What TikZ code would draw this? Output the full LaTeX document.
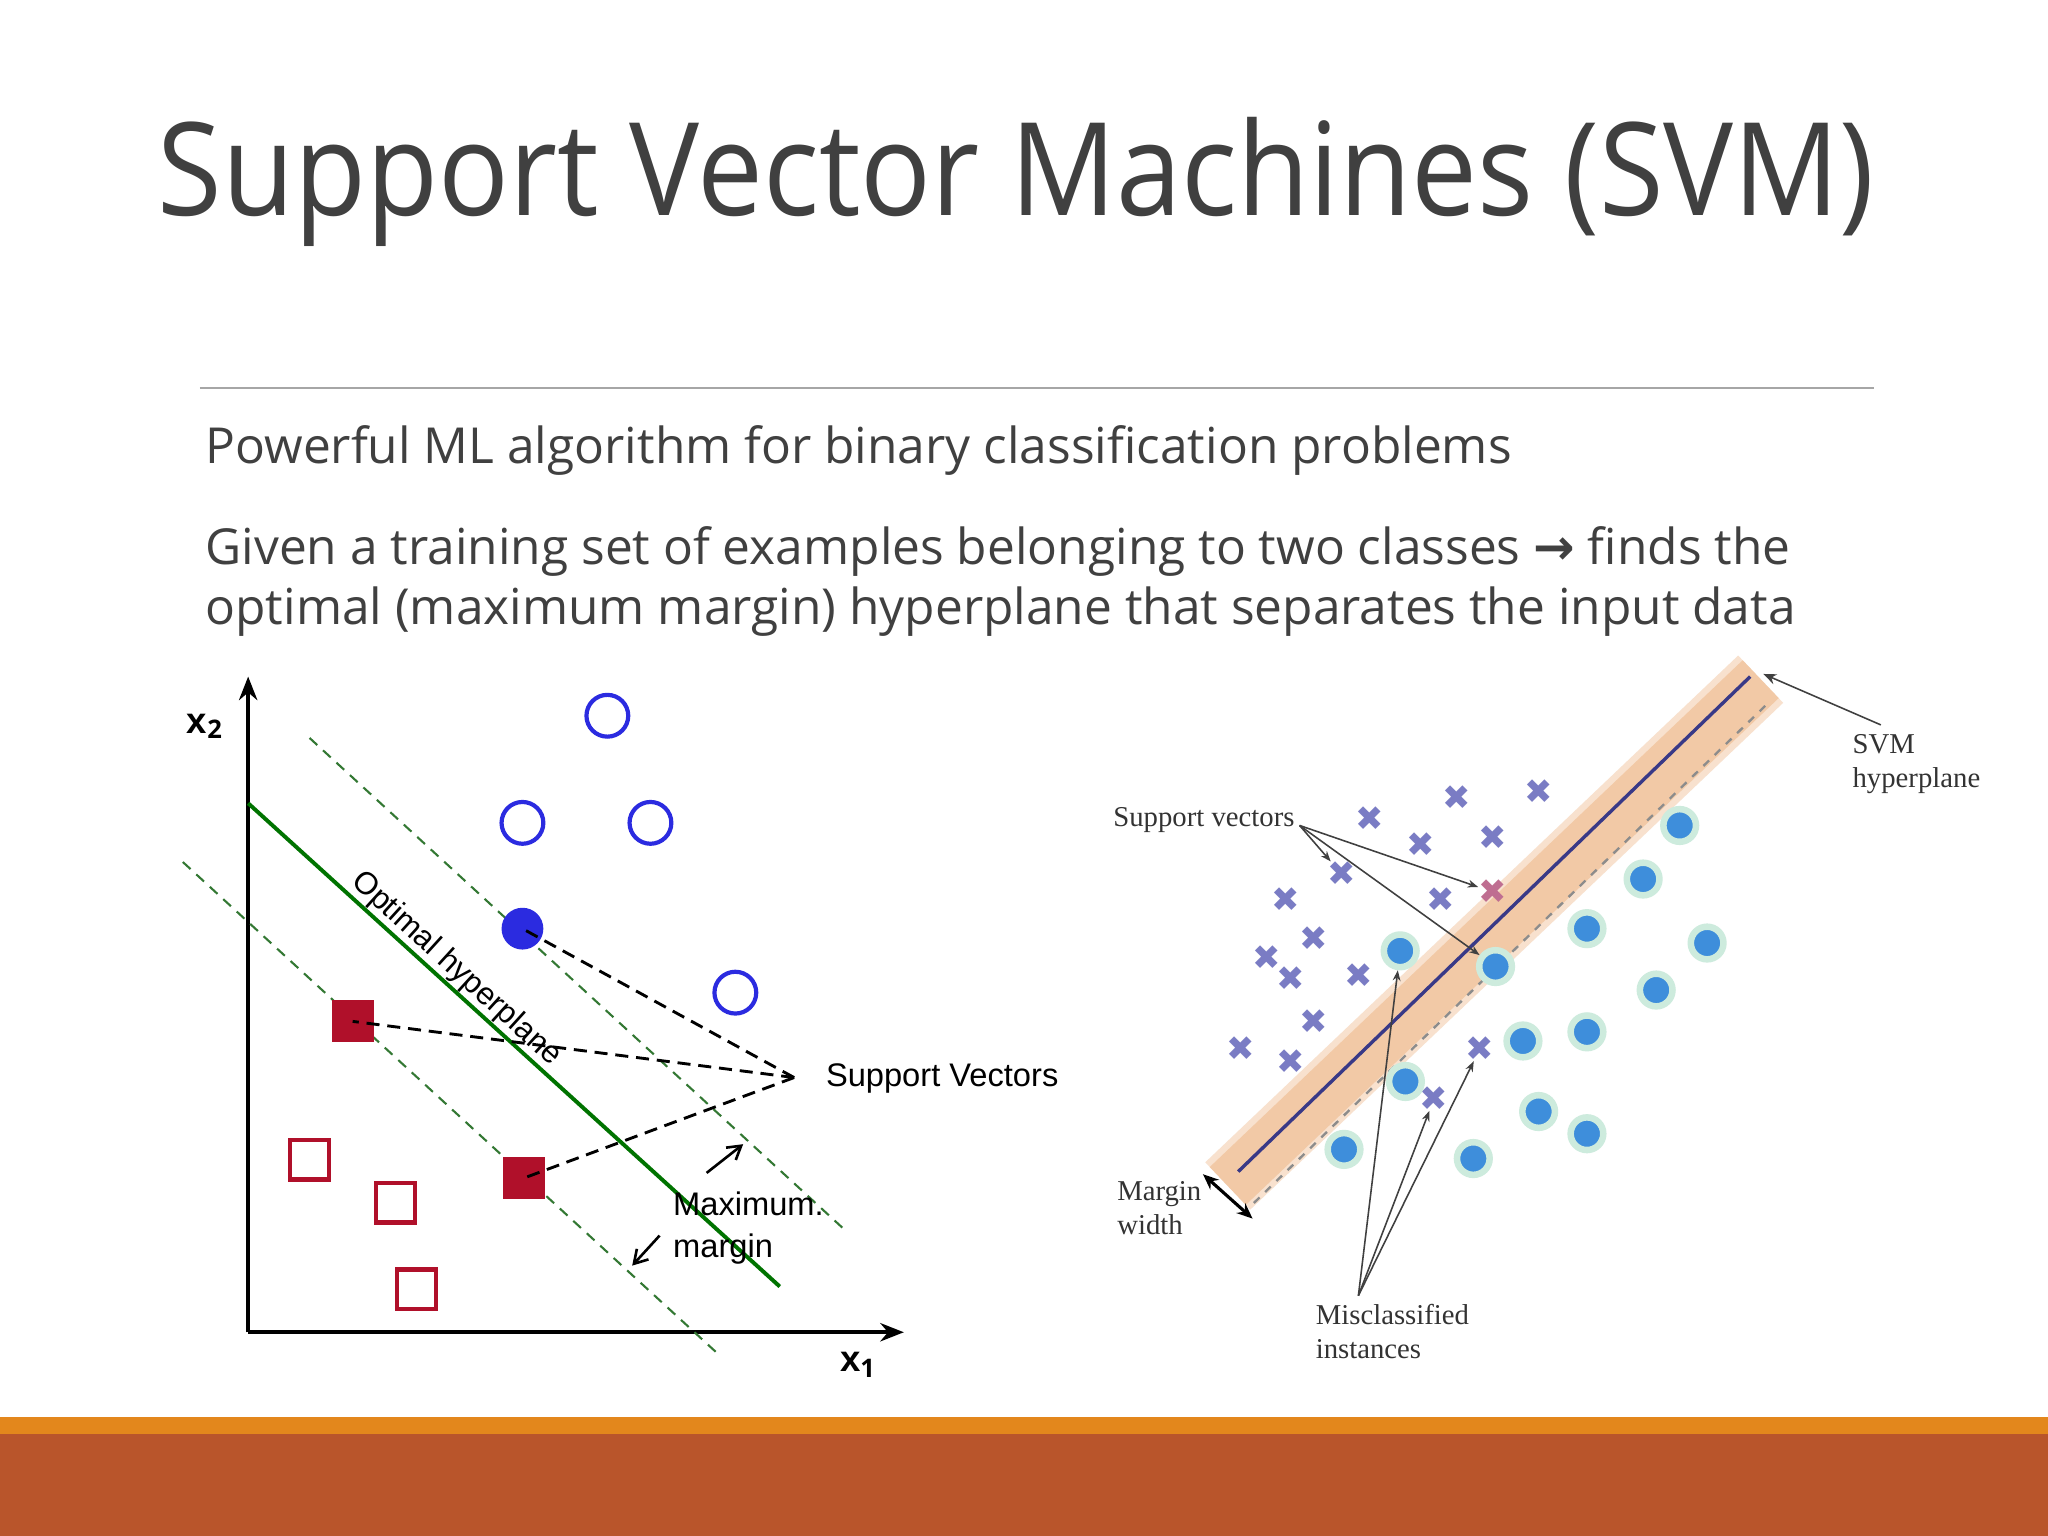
\documentclass[tikz,border=0pt]{standalone}
\usepackage{fontspec}
\setmainfont{Open Sans}
\newfontfamily\lsans{Liberation Sans}
\newfontfamily\lserif{Liberation Serif}
\newfontfamily\dejav{DejaVu Sans}
\usetikzlibrary{arrows.meta,calc}
\definecolor{tgray}{HTML}{404040}
\definecolor{barA}{HTML}{E3871C}
\definecolor{barB}{HTML}{B9552B}
\definecolor{cblue}{HTML}{2B2BE0}
\definecolor{sred}{HTML}{B0102A}
\definecolor{xcol}{HTML}{7A7CC4}
\definecolor{dotb}{HTML}{3E8EDB}
\definecolor{glow}{HTML}{CDEBDD}
\definecolor{band}{HTML}{F2C9A6}
\tikzset{
 opencirc/.style={circle,draw=cblue,line width=1.6pt,minimum size=16pt,inner sep=0pt},
 fillcirc/.style={circle,fill=cblue,minimum size=16pt,inner sep=0pt},
 opensq/.style={rectangle,draw=sred,line width=1.6pt,minimum size=15pt,inner sep=0pt},
 fillsq/.style={rectangle,fill=sred,minimum size=16pt,inner sep=0pt},
 xm/.style={inner sep=0pt,font=\dejav\bfseries\fontsize{13}{13}\selectfont,text=xcol},
 bdot/.style={circle,fill=dotb,draw=glow,line width=2.5pt,minimum size=12.5pt,inner sep=0pt},
 svline/.style={line width=1.1pt,dash pattern=on 5pt off 3pt},
 mgline/.style={line width=0.8pt,draw=black!55!green!60!gray,dash pattern=on 4pt off 3pt},
 ser/.style={font=\lserif\fontsize{11}{13}\selectfont,text=black!80,align=left,inner sep=0pt},
 thin/.style={line width=0.6pt,draw=black!75},
 body/.style={anchor=base west,text=tgray,inner sep=0pt,font=\fontsize{19}{23}\selectfont},
}
\begin{document}
\begin{tikzpicture}[x=0.5pt,y=-0.5pt]
\useasboundingbox (0,0) rectangle (1568,1176);
\fill[white] (0,0) rectangle (1568,1176);
% bars
\fill[barA] (0,1085) rectangle (1568,1098);
\fill[barB] (0,1098) rectangle (1568,1176);
% title
\node[anchor=base,text=tgray,inner sep=0pt,font=\fontsize{45}{50}\selectfont] (title) at (778,165) {\scalebox{1}[1.1]{Support Vector Machines (SVM)}};
\draw[black!35,line width=0.6pt] (153,297) -- (1435,297);
\node[body] (b1) at (157,355) {Powerful ML algorithm for binary classification problems};
\node[body] (b2) at (157,432) {Given a training set of examples belonging to two classes {\dejav\bfseries →} finds the};
\node[body] (b3) at (157,478) {optimal (maximum margin) hyperplane that separates the input data};
% left figure axes
\coordinate (o) at (190,1020);
\coordinate (ytop) at (190,518);
\coordinate (xr) at (692,1020);
\draw[line width=1.5pt,-{Stealth[length=9pt,width=7pt]}] (o) -- (ytop);
\draw[line width=1.5pt,-{Stealth[length=9pt,width=7pt]}] (o) -- (xr);
\node[font=\lsans\bfseries\fontsize{14}{14}\selectfont] (x2) at (157,556) {x$_{\mathbf 2}$};
\node[font=\lsans\bfseries\fontsize{14}{14}\selectfont] (x1) at (657,1045) {x$_{\mathbf 1}$};
% hyperplane + margins
\coordinate (h1) at (190,615); \coordinate (h2) at (597,985);
\coordinate (u1) at (237,565); \coordinate (u2) at (645,940);
\coordinate (l1) at (140,660); \coordinate (l2) at (548,1035);
\draw[mgline] (u1) -- (u2);
\draw[mgline] (l1) -- (l2);
\draw[line width=1.5pt,draw=green!45!black] (h1) -- (h2);
\node[rotate=-42.3,font=\lsans\fontsize{12}{12}\selectfont,anchor=south,inner sep=1pt] (oh) at (340,752) {Optimal hyperplane};
% points
\node[opencirc] (c1) at (465,548) {};
\node[opencirc] (c2) at (400,630) {};
\node[opencirc] (c3) at (498,630) {};
\node[opencirc] (c4) at (563,760) {};
\node[fillcirc] (c5) at (400,711) {};
\node[opensq] (s1) at (237,888) {};
\node[opensq] (s2) at (303,921) {};
\node[opensq] (s3) at (319,987) {};
\node[fillsq] (s4) at (270,782) {};
\node[fillsq] (s5) at (401,902) {};
\coordinate (sv) at (608,825);
\draw[svline] (sv) -- (c5.center);
\draw[svline] (sv) -- (s4.center);
\draw[svline] (sv) -- (s5.center);
\node[anchor=west,font=\lsans\fontsize{12.5}{12.5}\selectfont,inner sep=0pt] (svt) at (632,826) {Support Vectors};
\coordinate (a1s) at (541,898); \coordinate (a1e) at (569,876);
\coordinate (a2s) at (505,946); \coordinate (a2e) at (484,969);
\draw[line width=1pt,-{Straight Barb[length=5pt,width=6pt]}] (a1s) -- (a1e);
\draw[line width=1pt,-{Straight Barb[length=5pt,width=6pt]}] (a2s) -- (a2e);
\node[anchor=west,font=\lsans\fontsize{12.5}{12.5}\selectfont,inner sep=0pt] (mx) at (515,922) {Maximum.};
\node[anchor=west,font=\lsans\fontsize{12.5}{12.5}\selectfont,inner sep=0pt] (mg) at (515,956) {margin};
% right figure band
\coordinate (bA) at (940,908); \coordinate (bB) at (1348,520);
\draw[line width=25pt,draw=band!55] (bA) -- (bB);
\draw[line width=20pt,draw=band] (bA) -- (bB);
\draw[line width=1.3pt,draw=black!45!blue!55!gray] (948,897) -- (1340,518);
\draw[line width=0.9pt,draw=black!45,dashed] (960,921) -- (1355,537);
% x marks
\foreach \i/\p in {1/{(1049,627)},2/{(1115,611)},3/{(1178,606)},4/{(1088,647)},5/{(1143,641)},6/{(1027,669)},7/{(984,689)},8/{(1103,689)},9/{(1006,719)},10/{(970,733)},11/{(988,749)},12/{(1040,747)},13/{(1006,782)},14/{(950,803)},15/{(988,813)},16/{(1133,803)},17/{(1098,841)}}
  \node[xm] (x\i) at \p {✖};
\node[xm,text=red!40!xcol!80] (xp) at (1143,683) {✖};
% dots
\foreach \i/\p in {1/{(1286,632)},2/{(1258,673)},3/{(1215,711)},4/{(1307,722)},5/{(1072,728)},6/{(1145,740)},7/{(1268,758)},8/{(1166,797)},9/{(1215,790)},10/{(1076,828)},11/{(1178,851)},12/{(1215,868)},13/{(1029,880)},14/{(1128,887)}}
  \node[bdot] (d\i) at \p {};
% labels right
\node[ser,anchor=west] (svr) at (852,628) {Support vectors};
\coordinate (svp) at (995,632);
\draw[thin,-{Stealth[length=4pt,width=3pt]}] (svp) -- (xp);
\draw[thin,-{Stealth[length=4pt,width=3pt]}] (svp) -- (x6);
\draw[thin,-{Stealth[length=4pt,width=3pt]}] (svp) -- (d6);
\node[ser,anchor=north west] (svmh) at (1418,562) {SVM\\hyperplane};
\coordinate (svmp) at (1440,555);
\coordinate (svmq) at (1350,516);
\draw[thin,-{Stealth[length=5pt,width=4pt]}] (svmp) -- (svmq);
\node[ser,anchor=north west] (mw) at (855,904) {Margin\\width};
\coordinate (mwa) at (921,899); \coordinate (mwb) at (959,933);
\draw[line width=1.2pt,{Stealth[length=6pt,width=5pt]}-{Stealth[length=6pt,width=5pt]}] (mwa) -- (mwb);
\node[ser,anchor=north west] (mis) at (1007,998) {Misclassified\\instances};
\coordinate (misp) at (1040,992);
\draw[thin,-{Stealth[length=4pt,width=3pt]}] (misp) -- (d5);
\draw[thin,-{Stealth[length=4pt,width=3pt]}] (misp) -- (x17);
\draw[thin,-{Stealth[length=4pt,width=3pt]}] (misp) -- (x16);
\end{tikzpicture}
\end{document}
